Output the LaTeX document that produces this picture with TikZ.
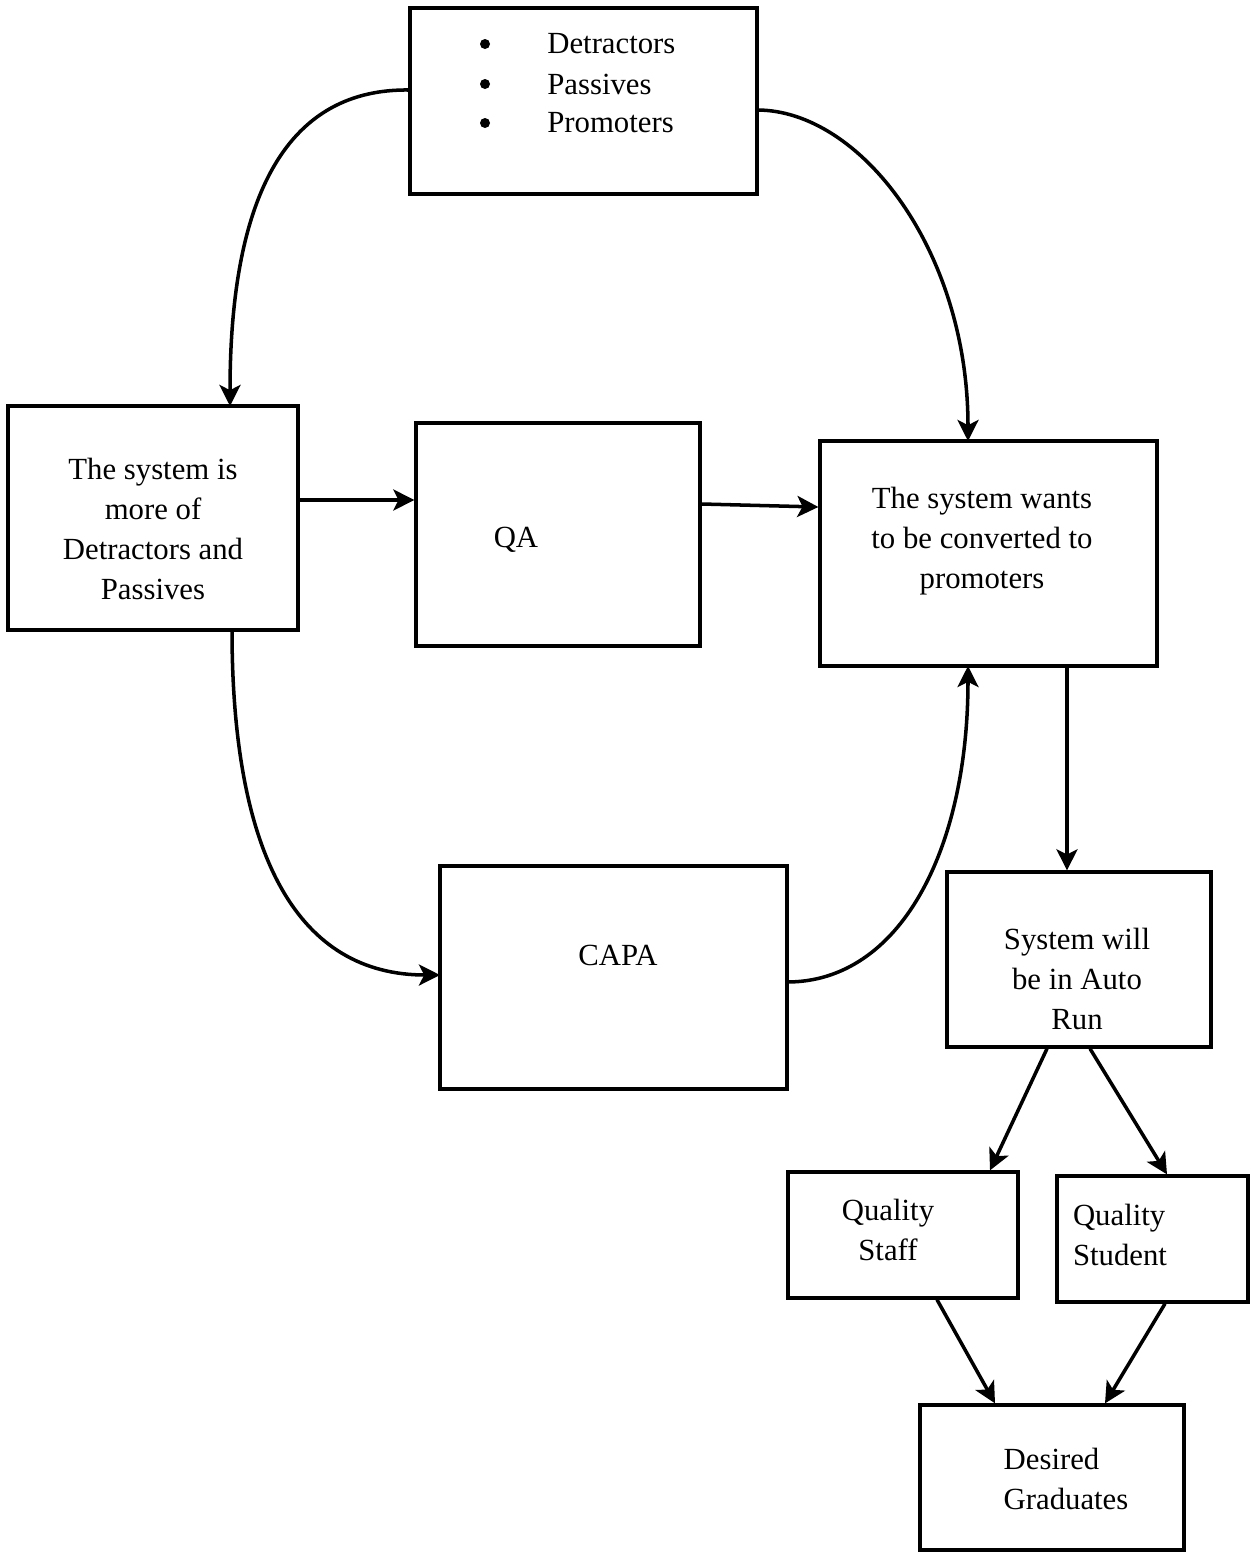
\documentclass[tikz,border=0pt]{standalone}
\usepackage{fontspec}
\setmainfont{Liberation Serif}
\usetikzlibrary{arrows.meta}
\begin{document}
\begin{tikzpicture}[x=0.02cm,y=-0.02cm,
  box/.style={draw,line width=1.9pt,rectangle,inner sep=0pt},
  txt/.style={inner sep=0pt,font=\fontsize{17.5}{22.7}\selectfont},
  conn/.style={line width=2pt,-{Stealth[length=12pt,width=12pt,inset=3pt]}}]
\useasboundingbox (0,0) rectangle (1254,1552);
% boxes
\node[box,minimum width=6.94cm,minimum height=3.72cm] (top) at (583.5,101) {};
\node[box,minimum width=5.8cm,minimum height=4.48cm] (left) at (153,518) {};
\node[box,minimum width=5.68cm,minimum height=4.46cm] (qa) at (558,534.5) {};
\node[box,minimum width=6.74cm,minimum height=4.5cm] (right) at (988.5,553.5) {};
\node[box,minimum width=6.94cm,minimum height=4.46cm] (capa) at (613.5,977.5) {};
\node[box,minimum width=5.28cm,minimum height=3.5cm] (auto) at (1079,959.5) {};
\node[box,minimum width=4.6cm,minimum height=2.52cm] (staff) at (903,1235) {};
\node[box,minimum width=3.82cm,minimum height=2.52cm] (student) at (1152.5,1239) {};
\node[box,minimum width=5.28cm,minimum height=2.9cm] (grad) at (1052,1477.5) {};
% texts
\node[txt,anchor=west] (t1) at (547,44) {Detractors};
\node[txt,anchor=west] (t2) at (547,84) {Passives};
\node[txt,anchor=west] (t3) at (547,123) {Promoters};
\fill (485,44) circle (5);
\fill (485,84) circle (5);
\fill (485,123) circle (5);
\node[txt,align=center] (lt) at (153,529) {The system is\\more of\\Detractors and\\Passives};
\node[txt] (qat) at (516,540) {QA};
\node[txt,align=center] (rt) at (982,541) {The system wants\\to be converted to\\promoters};
\node[txt] (capat) at (618,955) {CAPA};
\node[txt,align=center] (at) at (1077,979) {System will\\be in Auto\\Run};
\node[txt,align=center] (st) at (888,1230) {Quality\\Staff};
\node[txt,align=left] (sut) at (1120,1235) {Quality\\Student};
\node[txt,align=left] (gt) at (1066,1479) {Desired\\Graduates};
% anchor points
\coordinate (a1) at (410,90);
\coordinate (a2) at (230,406);
\coordinate (b1) at (757,110);
\coordinate (b2) at (968,441);
\coordinate (c1) at (232,630);
\coordinate (c2) at (440,975);
\coordinate (d1) at (787,982);
\coordinate (d2) at (968,666);
% connectors
\draw[conn] (a1) .. controls (290,88) and (230,190) .. (a2);
\draw[conn] (b1) .. controls (860,110) and (968,250) .. (b2);
\draw[conn] (c1) .. controls (232,860) and (300,975) .. (c2);
\draw[conn] (d1) .. controls (900,982) and (968,850) .. (d2);
\draw[conn] (left.east |- 0,500) -- (qa.west |- 0,500);
\draw[conn] (qa.east |- 0,504) -- (right.west |- 0,507);
\draw[conn] (right.south -| 1067,0) -- (auto.north -| 1067,0);
\draw[conn] (auto.south -| 1047,0) -- (staff.north -| 990,0);
\draw[conn] (auto.south -| 1090,0) -- (student.north -| 1167,0);
\draw[conn] (staff.south -| 937,0) -- (grad.north -| 995,0);
\draw[conn] (student.south -| 1165,0) -- (grad.north -| 1105,0);
\end{tikzpicture}
\end{document}
